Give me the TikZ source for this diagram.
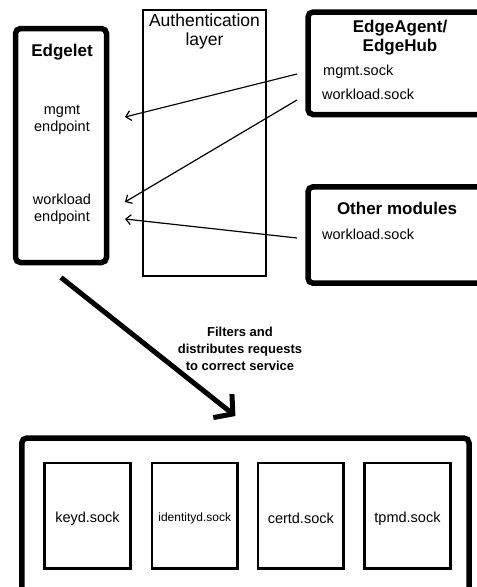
\documentclass[tikz,border=0pt]{standalone}
\usepackage{fontspec}
\setmainfont{Liberation Sans}
\usetikzlibrary{arrows.meta}
\usetikzlibrary{calc}

\begin{document}
\begin{tikzpicture}[x=1pt, y=-1pt,
        box_style/.style={draw=black, line width=2.5pt, inner sep=0pt, outer sep=0pt},
        thick_box_style/.style={draw=black, line width=5.5pt, rounded corners=5pt, inner sep=0pt, outer sep=0pt},
        title_style/.style={font=\fontsize{17}{19}\selectfont\bfseries, align=center, inner sep=0pt},
        text_style/.style={font=\fontsize{14.5}{17}\selectfont, align=center, inner sep=0pt},
        sock_style/.style={text_style, anchor=west},
        edge_style/.style={draw=black, line width=1.2pt, -{Straight Barb[length=5pt,width=10pt]}},
        big_edge_style/.style={draw=black, line width=5pt, -{Straight Barb[length=13pt,width=30pt]}}]

        \fill [white] (0,0) rectangle (477,587);
        \useasboundingbox (0,0) rectangle (477,587);

        % boxes
        \node [thick_box_style, minimum width=91pt, minimum height=234pt] (edgelet) at (61,145.5) {};

        \node [box_style, line width=2.3pt, minimum width=123.4pt, minimum height=266.5pt] (auth) at (204.5,143) {};

        \node [thick_box_style, minimum width=182pt, minimum height=102.5pt] (agent) at (399,63.25) {};

        \node [thick_box_style, minimum width=182pt, minimum height=96.4pt] (others) at (399,235) {};

        \node [thick_box_style, minimum width=447.2pt, minimum height=162pt] (services) at (245.4,519) {};

        \node [box_style, minimum width=85.6pt, minimum height=105.7pt] (keyd) at (87.5,515.8) {};

        \node [box_style, minimum width=85.6pt, minimum height=105.7pt] (identityd) at (194.7,515.8) {};

        \node [box_style, minimum width=85.6pt, minimum height=105.7pt] (certd) at (300.8,515.8) {};

        \node [box_style, minimum width=85.6pt, minimum height=105.7pt] (tpmd) at (407.5,515.8) {};

        % texts
        \node [title_style] (edgelet_title) at (62,52) {Edgelet};

        \node [text_style] (mgmt_ep) at (62,120) {mgmt\\endpoint};

        \node [text_style] (wl_ep) at (62,209) {workload\\endpoint};

        \node [text_style, font=\fontsize{17.5}{19}\selectfont] (auth_title) at (204.5,31) {Authentication\\layer};

        \node [title_style] (agent_title) at (400,38) {EdgeAgent/\\EdgeHub};

        \node [sock_style] (agent_mgmt) at (323,72) {mgmt.sock};

        \node [sock_style] (agent_wl) at (322,94) {workload.sock};

        \node [title_style] (others_title) at (397,208) {Other modules};

        \node [sock_style] (others_wl) at (322,234) {workload.sock};

        \node [text_style, font=\fontsize{13}{17}\selectfont\bfseries] (filter_label) at (240,349) {Filters and\\distributes requests\\to correct service};

        \node [text_style] at ($(keyd)+(0,3)$) {keyd.sock};

        \node [text_style, font=\fontsize{12}{14}\selectfont] at ($(identityd)+(0,3)$) {identityd.sock};

        \node [text_style] at ($(certd)+(0,3)$) {certd.sock};

        \node [text_style] at ($(tpmd)+(0,3)$) {tpmd.sock};

        % connectors
        \draw [edge_style] ($(agent_mgmt.west)+(-26,2)$) -- ($(mgmt_ep.center)+(63,-3)$);

        \draw [edge_style] ($(agent_wl.west)+(-25,6)$) -- ($(wl_ep.center)+(63,-7)$);

        \draw [edge_style] ($(others_wl.west)+(-25,4)$) -- ($(wl_ep.center)+(63,10)$);

        \draw [big_edge_style] ([yshift=-15pt]edgelet.south) -- ([xshift=-10pt,yshift=22pt]services.north);

        \end{tikzpicture}
\end{document}
